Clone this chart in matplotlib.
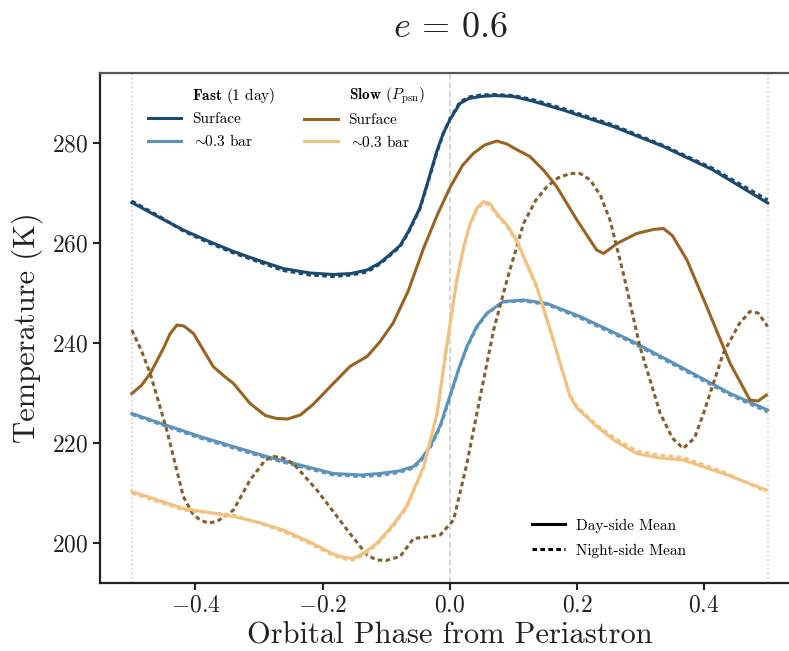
'''
e = 0.6 : day/night mean temperatures vs orbital phase, fast vs slow rotators
'''
import matplotlib
matplotlib.use('Agg')
import matplotlib.pyplot as plt
from matplotlib.lines import Line2D

plt.rcParams['font.family'] = 'serif'
plt.rcParams['font.serif'] = ['cmr10']
plt.rcParams['mathtext.fontset'] = 'cm'
plt.rcParams['axes.formatter.use_mathtext'] = True

# fast rotator (1 day), surface
fsPh = [-0.5, -0.455, -0.419, -0.38, -0.34, -0.3, -0.262, -0.22, -0.183, -0.155, -0.13, -0.11,
        -0.095, -0.078, -0.065, -0.047, -0.035, -0.02, -0.01, 0.0, 0.016, 0.03, 0.048, 0.07,
        0.1, 0.13, 0.178, 0.257, 0.336, 0.414, 0.5]
fsDay = [268.1, 265.0, 262.6, 260.4, 258.3, 256.5, 254.9, 254.0, 253.7, 253.9, 254.6, 256.0,
         257.6, 259.5, 262.3, 267.0, 272.0, 278.5, 282.0, 284.6, 287.9, 288.9, 289.3, 289.5,
         289.3, 288.4, 286.6, 283.3, 279.3, 274.6, 268.0]
fsNight = [268.4, 265.2, 262.4, 260.1, 258.0, 256.2, 254.5, 253.6, 253.3, 253.6, 254.2, 255.8,
           257.4, 259.3, 262.1, 266.8, 271.8, 278.2, 281.9, 284.8, 288.2, 289.2, 289.6, 289.7,
           289.5, 288.7, 286.9, 283.6, 279.5, 274.9, 268.6]

# fast rotator, ~0.3 bar
fpPh = [-0.5, -0.393, -0.288, -0.183, -0.14, -0.11, -0.08, -0.057, -0.045, -0.031, -0.015,
        0.0, 0.014, 0.027, 0.042, 0.058, 0.084, 0.116, 0.153, 0.205, 0.283, 0.362, 0.441, 0.5]
fpDay = [225.9, 221.3, 217.3, 213.9, 213.6, 213.9, 214.4, 215.3, 216.8, 219.3, 223.5,
         229.3, 234.8, 239.3, 243.2, 245.9, 248.3, 248.6, 247.9, 245.3, 240.6, 235.3, 229.9, 226.6]
fpNight = [225.7, 221.0, 217.0, 213.6, 213.3, 213.5, 214.1, 215.0, 216.5, 219.0, 223.2,
           229.0, 234.6, 239.1, 243.0, 245.8, 248.2, 248.4, 247.7, 245.0, 240.3, 235.0, 229.6, 226.2]

# slow rotator (P_psn), surface
ssPh = [-0.5, -0.485, -0.471, -0.45, -0.44, -0.429, -0.418, -0.403, -0.388, -0.372, -0.355,
        -0.34, -0.314, -0.29, -0.272, -0.255, -0.235, -0.215, -0.193, -0.157, -0.13, -0.11,
        -0.089, -0.065, -0.041, -0.02, 0.0, 0.02, 0.037, 0.055, 0.074, 0.09, 0.105, 0.126,
        0.148, 0.168, 0.2, 0.231, 0.242, 0.263, 0.294, 0.32, 0.336, 0.35, 0.373, 0.404,
        0.441, 0.472, 0.485, 0.498]
ssDay = [229.9, 231.5, 233.9, 239.0, 241.8, 243.6, 243.4, 241.9, 238.7, 235.3, 233.4,
         231.9, 227.9, 225.5, 224.9, 224.8, 225.6, 227.7, 230.6, 235.3, 237.3, 240.2,
         244.0, 250.5, 259.0, 265.5, 271.0, 275.5, 277.9, 279.6, 280.4, 279.8, 278.7, 277.3,
         274.5, 271.3, 264.6, 258.6, 257.9, 259.9, 261.9, 262.7, 262.9, 261.5, 256.6, 247.3,
         235.9, 228.6, 228.4, 229.6]
ssNightPh = [-0.5, -0.485, -0.471, -0.445, -0.419, -0.405, -0.393, -0.38, -0.366, -0.34,
             -0.314, -0.29, -0.277, -0.262, -0.246, -0.209, -0.157, -0.13, -0.115, -0.1,
             -0.078, -0.057, -0.036, -0.015, 0.006, 0.027, 0.048, 0.069, 0.09, 0.116, 0.135,
             0.153, 0.17, 0.189, 0.205, 0.221, 0.237, 0.252, 0.273, 0.299, 0.331, 0.35, 0.367,
             0.385, 0.399, 0.43, 0.455, 0.472, 0.485, 0.5]
ssNight = [242.6, 238.5, 233.9, 222.6, 209.3, 206.0, 204.6, 204.0, 204.3, 206.6,
           212.6, 216.6, 217.3, 217.0, 215.9, 210.6, 201.9, 197.6, 196.6, 196.5,
           197.3, 200.9, 201.2, 201.6, 204.6, 215.9, 229.3, 242.6, 252.6, 263.9, 268.5,
           271.3, 273.0, 273.9, 273.9, 272.6, 269.5, 264.6, 253.9, 239.3, 225.9, 221.0, 218.9,
           221.0, 225.9, 237.9, 243.8, 246.3, 246.0, 243.3]

# slow rotator, ~0.3 bar
spPh = [-0.5, -0.419, -0.34, -0.3, -0.262, -0.22, -0.183, -0.165, -0.152, -0.135, -0.115,
        -0.09, -0.068, -0.041, -0.02, -0.005, 0.011, 0.022, 0.032, 0.043, 0.053, 0.063,
        0.074, 0.09, 0.105, 0.137, 0.163, 0.189, 0.2, 0.231, 0.26, 0.294, 0.33, 0.367, 0.43,
        0.498]
spDay = [210.3, 206.9, 205.3, 204.1, 202.6, 200.2, 197.8, 197.1, 196.9, 198.0, 199.9,
         203.5, 207.3, 215.3, 225.9, 239.3, 252.6, 259.3, 263.9, 267.0, 268.3, 267.9,
         265.9, 263.6, 260.6, 251.3, 240.6, 229.3, 227.0, 223.3, 220.4, 217.9, 217.0, 216.6,
         213.9, 210.6]
spNight = [210.0, 206.6, 205.6, 204.0, 202.3, 199.9, 197.5, 196.8, 196.6, 197.7, 199.6,
           203.2, 207.0, 215.0, 225.6, 239.0, 252.3, 259.0, 263.6, 266.7, 268.0, 267.6,
           265.6, 263.3, 260.3, 251.0, 240.3, 229.6, 227.3, 223.6, 220.9, 218.4, 217.6, 217.1,
           214.2, 210.3]

cFastS = '#1b4a70'
cFastP = '#5b93bb'
cSlowS = '#9a6420'
cSlowP = '#f3c17e'
cSlowSNight = '#85602c'
dotted = (0, (1.5, 1.1))

fig = plt.figure(figsize = (7.89, 6.51), dpi = 100)
ax = fig.add_axes([100/789, 68/651, 699.5/789, 510/651])

for xv, ls in [(-0.5, ':'), (0.0, '--'), (0.5, ':')]:
    ax.axvline(xv, color = '#d0d0d0', ls = ls, lw = 1.2, zorder = 0)

ax.plot(fsPh, fsDay, color = cFastS, lw = 2.2)
ax.plot(fsPh, fsNight, color = cFastS, lw = 2.2, ls = dotted)
ax.plot(fpPh, fpDay, color = cFastP, lw = 2.2)
ax.plot(fpPh, fpNight, color = cFastP, lw = 2.2, ls = dotted)
ax.plot(ssPh, ssDay, color = cSlowS, lw = 2.2)
ax.plot(ssNightPh, ssNight, color = cSlowSNight, lw = 2.2, ls = dotted)
ax.plot(spPh, spDay, color = cSlowP, lw = 2.2)
ax.plot(spPh, spNight, color = cSlowP, lw = 2.2, ls = dotted)

ax.set_xlim(-0.55, 0.55)
ax.set_ylim(192, 294)
ax.set_xticks([-0.4, -0.2, 0.0, 0.2, 0.4])
ax.set_yticks([200, 220, 240, 260, 280])
ax.tick_params(direction = 'out', length = 5, width = 1.5, labelsize = 17,
               top = False, right = False, colors = '#222222')
for s in ax.spines.values():
    s.set_linewidth(1.6)
    s.set_color('#222222')
ax.spines['top'].set_color('#555555')
ax.spines['right'].set_visible(False)

ax.set_xlabel('Orbital Phase from Periastron', fontsize = 22, labelpad = 4, color = '#222222')
ax.set_ylabel('Temperature (K)', fontsize = 22, labelpad = 6, color = '#222222')
fig.text(450/789, 1 - 28/651, r'$e\,=\,0.6$', fontsize = 26, ha = 'center', va = 'center',
         color = '#222222')

# model legend (two columns with headers)
blank = Line2D([], [], color = 'none')
hnd = [blank,
       Line2D([], [], color = cFastS, lw = 2.2),
       Line2D([], [], color = cFastP, lw = 2.2),
       blank,
       Line2D([], [], color = cSlowS, lw = 2.2),
       Line2D([], [], color = cSlowP, lw = 2.2)]
lab = [r'$\mathbf{Fast}$ (1 day)', 'Surface', r'$\sim\!\!0.3$ bar',
       r'$\mathbf{Slow}$ ($P_{\rm psn}$)', 'Surface', r'$\sim\!\!0.3$ bar']
leg1 = ax.legend(hnd, lab, ncol = 2, frameon = False, fontsize = 11,
                 loc = 'upper left', bbox_to_anchor = (0.068, 0.975), borderpad = 0,
                 borderaxespad = 0, handlelength = 2.2, handletextpad = 0.7,
                 columnspacing = 1.9, labelspacing = 0.45)
ax.add_artist(leg1)

hnd2 = [Line2D([], [], color = 'k', lw = 2.2),
        Line2D([], [], color = 'k', lw = 2.2, ls = dotted)]
ax.legend(hnd2, ['Day-side Mean', 'Night-side Mean'], frameon = False, fontsize = 11,
          loc = 'lower left', bbox_to_anchor = (0.617, 0.05), borderpad = 0,
          borderaxespad = 0, handlelength = 2.2, handletextpad = 0.7, labelspacing = 0.7)

fig.savefig('out.png', dpi = 100)
